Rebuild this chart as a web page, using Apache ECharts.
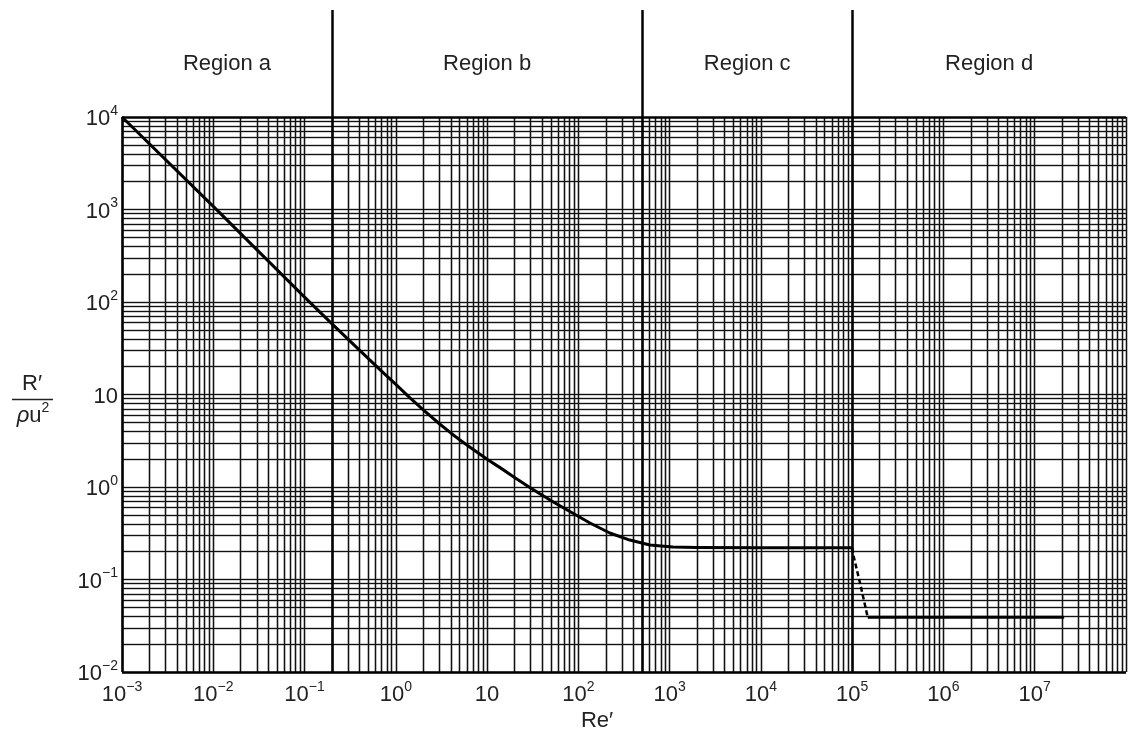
<!DOCTYPE html>
<html><head><meta charset="utf-8">
<script src="https://cdn.jsdelivr.net/npm/echarts@6/dist/echarts.min.js"></script>
<style>html,body{margin:0;padding:0;background:#fff}#c{width:1128px;height:742px}</style>
</head><body><div id="c"></div>
<script>
// ---------- data ----------
const curveRe = [0.001, 0.01, 0.1, 0.2, 0.405, 0.67, 1, 1.43, 2, 3, 4, 5, 6.5, 8.3, 10, 14, 20, 28, 37.8, 55, 80.7, 134, 221, 366, 607, 1084, 2000, 10000, 100000];
const curveR  = [10000, 1080, 113, 58, 29.8, 18.6, 12.9, 9.2, 6.82, 4.83, 3.84, 3.24, 2.69, 2.27, 2.0, 1.61, 1.27, 1.02, 0.845, 0.676, 0.543, 0.408, 0.318, 0.267, 0.236, 0.224, 0.222, 0.22, 0.22];
const dropRe = [100000, 103000, 124000, 148000];
const dropR  = [0.22, 0.184, 0.085, 0.039];
const turbRe = [148000, 21000000];
const turbR  = [0.039, 0.039];
const regionBounds = [0.001, 0.2, 500, 100000, 1e8];
const regionNames = ['Region a', 'Region b', 'Region c', 'Region d'];
const xTickLabels = ['10^\u22123', '10^\u22122', '10^\u22121', '10^0', '10', '10^2', '10^3', '10^4', '10^5', '10^6', '10^7', ''];
const yTickLabels = ['10^\u22122', '10^\u22121', '10^0', '10', '10^2', '10^3', '10^4', ''];
const xAxisName = 'Re\u2032';
const yNameNum = 'R\u2032';

// ---------- layout ----------
const FONT = '"Liberation Sans", Arial, Helvetica, sans-serif';
const X_MIN = 1e-3, X_MAX = 1e8, Y_MIN = 1e-2, Y_PLOT_MAX = 1e4;
const Y_TOP = Math.pow(10, 5.157);   // room above the plot for region labels
const TXT = '#222';

function fmt(s) {
  if (!s) return '';
  const p = s.split('^');
  return p.length > 1 ? '{b|' + p[0] + '}{s|' + p[1] + '}' : '{b|' + p[0] + '}';
}
const rich = {
  b: { fontSize: 22, lineHeight: 26, verticalAlign: 'bottom', fontFamily: FONT, color: TXT },
  s: { fontSize: 14, lineHeight: 17, verticalAlign: 'top', fontFamily: FONT, color: TXT }
};

// log-paper lines (styling only)
const paperM = [1, 2, 3, 4, 5, 6, 7, 8, 9];
function paperValues(lo, hi, ms) {
  const out = [];
  for (let e = Math.round(Math.log10(lo)); e < Math.round(Math.log10(hi)); e++) {
    ms.forEach(m => out.push(m * Math.pow(10, e)));
  }
  return out;
}
function vLines(vals) { return vals.map(v => [{ coord: [v, Y_MIN] }, { coord: [v, Y_PLOT_MAX] }]); }
function hLines(vals) { return vals.map(v => [{ coord: [X_MIN, v] }, { coord: [X_MAX, v] }]); }

const paperLines = vLines(paperValues(X_MIN, X_MAX, paperM).concat([X_MAX])).concat(hLines(paperValues(Y_MIN, Y_PLOT_MAX, paperM)));
const frameLines = [
  [{ coord: [X_MIN, Y_MIN] }, { coord: [X_MIN, Y_PLOT_MAX] }],
  [{ coord: [X_MIN, Y_MIN] }, { coord: [X_MAX, Y_MIN] }],
  [{ coord: [X_MIN, Y_PLOT_MAX] }, { coord: [X_MAX, Y_PLOT_MAX] }]
].concat(regionBounds.slice(1, 4).map(v => [{ coord: [v, Y_MIN] }, { coord: [v, Y_TOP] }]));
const regionAreas = regionNames.map((n, i) => [
  { name: n, coord: [regionBounds[i], Y_PLOT_MAX] },
  { coord: [regionBounds[i + 1], Y_TOP] }
]);

function mlSeries(name, lines, color, width, z, opacity) {
  return {
    name, type: 'line', data: [], z, silent: true, animation: false,
    markLine: {
      silent: true, animation: false, symbol: ['none', 'none'],
      label: { show: false },
      lineStyle: { color, width, type: 'solid', opacity: opacity == null ? 1 : opacity },
      emphasis: { disabled: true },
      data: lines
    }
  };
}

const chart = echarts.init(document.getElementById('c'), null, { renderer: 'canvas' });
chart.setOption({
  backgroundColor: '#fff',
  animation: false,
  grid: { left: 122, right: 2, top: 10, bottom: 70, containLabel: false },
  xAxis: [
    { type: 'log', logBase: 10, min: X_MIN, max: X_MAX, axisLabel: { show: false }, axisLine: { show: false }, axisTick: { show: false }, splitLine: { show: false } },
    { type: 'value', min: -3, max: 8, interval: 1, position: 'bottom',
      axisLine: { show: false }, axisTick: { show: false }, splitLine: { show: false },
      axisLabel: { margin: 8, showMaxLabel: false, rich,
        formatter: v => (Math.abs(v - Math.round(v)) > 1e-6 ? '' : fmt(xTickLabels[Math.round(v + 3)] || '')) } }
  ],
  yAxis: [
    { type: 'log', logBase: 10, min: Y_MIN, max: Y_TOP, axisLabel: { show: false }, axisLine: { show: false }, axisTick: { show: false }, splitLine: { show: false } },
    { type: 'value', min: -2, max: Math.log10(Y_TOP), interval: 1, position: 'left',
      axisLine: { show: false }, axisTick: { show: false }, splitLine: { show: false },
      axisLabel: { margin: 4, showMaxLabel: false, align: 'right', rich,
        formatter: v => (Math.abs(v - Math.round(v)) > 1e-6 ? '' : fmt(yTickLabels[Math.round(v + 2)] || '')) } }
  ],
  series: [
    mlSeries('halo', paperLines, '#9a9a9a', 3, 1, 0.45),
    mlSeries('paper', paperLines, '#111', 1.2, 2),
    mlSeries('frame', frameLines, '#000', 2.5, 3),
    {
      name: 'regions', type: 'line', data: [], z: 3, silent: true,
      markArea: {
        silent: true,
        itemStyle: { color: 'rgba(0,0,0,0)' },
        label: { show: true, position: 'inside', fontSize: 22, fontFamily: FONT, color: TXT },
        data: regionAreas
      }
    },
    { name: 'curve', type: 'line', z: 5, symbol: 'none', smooth: false,
      data: curveRe.map((x, i) => [x, curveR[i]]),
      lineStyle: { color: '#000', width: 3, join: 'round' } },
    { name: 'transition', type: 'line', z: 5, symbol: 'none',
      data: dropRe.map((x, i) => [x, dropR[i]]),
      lineStyle: { color: '#000', width: 2.5, type: [5, 3] } },
    { name: 'newton', type: 'line', z: 5, symbol: 'none',
      data: turbRe.map((x, i) => [x, turbR[i]]),
      lineStyle: { color: '#000', width: 3 } }
  ],
  graphic: [
    { type: 'text', style: { text: yNameNum, x: 32, y: 384, align: 'center', verticalAlign: 'middle', font: '22px ' + FONT, fill: TXT } },
    { type: 'line', shape: { x1: 12, y1: 399.5, x2: 53, y2: 399.5 }, style: { stroke: TXT, lineWidth: 1.5 } },
    { type: 'text', style: { text: '{i|\u03c1}{b|u}{s|2}', x: 33, y: 414, align: 'center', verticalAlign: 'middle',
        rich: {
          i: { fontSize: 22, fontStyle: 'italic', fontFamily: FONT, fill: TXT, lineHeight: 26, verticalAlign: 'bottom' },
          b: { fontSize: 22, fontFamily: FONT, fill: TXT, lineHeight: 26, verticalAlign: 'bottom' },
          s: { fontSize: 14, fontFamily: FONT, fill: TXT, lineHeight: 17, verticalAlign: 'top' }
        } } },
    { type: 'text', style: { text: xAxisName, x: 597, y: 721, align: 'center', verticalAlign: 'middle', font: '22px ' + FONT, fill: TXT } }
  ]
});
</script>
</body></html>
